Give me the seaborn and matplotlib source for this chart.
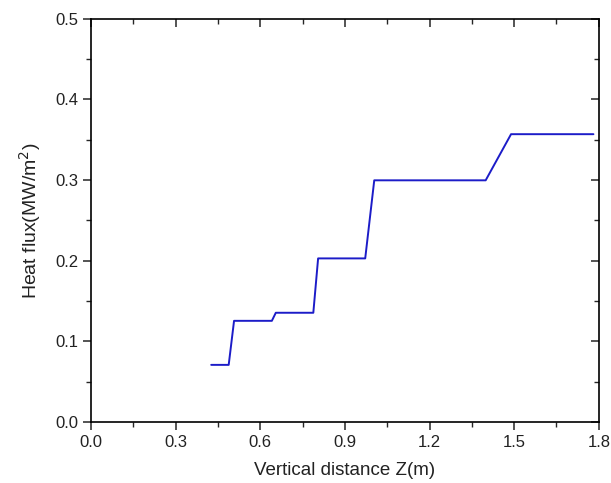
import numpy as np
import matplotlib
matplotlib.use("Agg")
import matplotlib.pyplot as plt
import seaborn as sns
from matplotlib.ticker import MultipleLocator, FormatStrFormatter

# values
z_m = [0.426, 0.488, 0.507, 0.641, 0.655, 0.788, 0.805, 0.972, 1.004, 1.399, 1.489, 1.781]
heat_flux = [0.071, 0.071, 0.1256, 0.1256, 0.1356, 0.1356, 0.203, 0.203, 0.2998, 0.2998, 0.357, 0.357]

sns.set_style("ticks")
plt.rcParams['font.family'] = ['Liberation Sans', 'DejaVu Sans']

fig = plt.figure(figsize=(6.11, 4.83), dpi=100)
ax = fig.add_axes([0.149, 0.126, 0.831, 0.835])

sns.lineplot(x=z_m, y=heat_flux, ax=ax, color="#1c1cc8", linewidth=1.4, sort=False)

ax.set_xlim(0, 1.8)
ax.set_ylim(0, 0.5)
ax.xaxis.set_major_locator(MultipleLocator(0.3))
ax.xaxis.set_minor_locator(MultipleLocator(0.15))
ax.yaxis.set_major_locator(MultipleLocator(0.1))
ax.yaxis.set_minor_locator(MultipleLocator(0.05))
ax.xaxis.set_major_formatter(FormatStrFormatter('%.1f'))
ax.yaxis.set_major_formatter(FormatStrFormatter('%.1f'))

for s in ax.spines.values():
    s.set_visible(True)
    s.set_linewidth(1.2)
    s.set_color("black")

ax.tick_params(which='both', top=True, right=True, labeltop=False, labelright=False, direction='out')
ax.tick_params(which='major', length=6, width=1.1, labelsize=12, labelcolor='#222222', pad=3)
ax.tick_params(which='minor', length=3.5, width=1.0)
# top and right ticks point inward
for t in ax.xaxis.get_major_ticks() + ax.xaxis.get_minor_ticks():
    t.tick2line.set_marker(3)
for t in ax.yaxis.get_major_ticks() + ax.yaxis.get_minor_ticks():
    t.tick2line.set_marker(0)

ax.set_xlabel("Vertical distance Z(m)", fontsize=13.5, labelpad=9, color='#222222')
ax.set_ylabel("Heat flux(MW/m$^2$)", fontsize=14, labelpad=9, color='#222222')

plt.savefig("out.png", dpi=100)
plt.close(fig)
